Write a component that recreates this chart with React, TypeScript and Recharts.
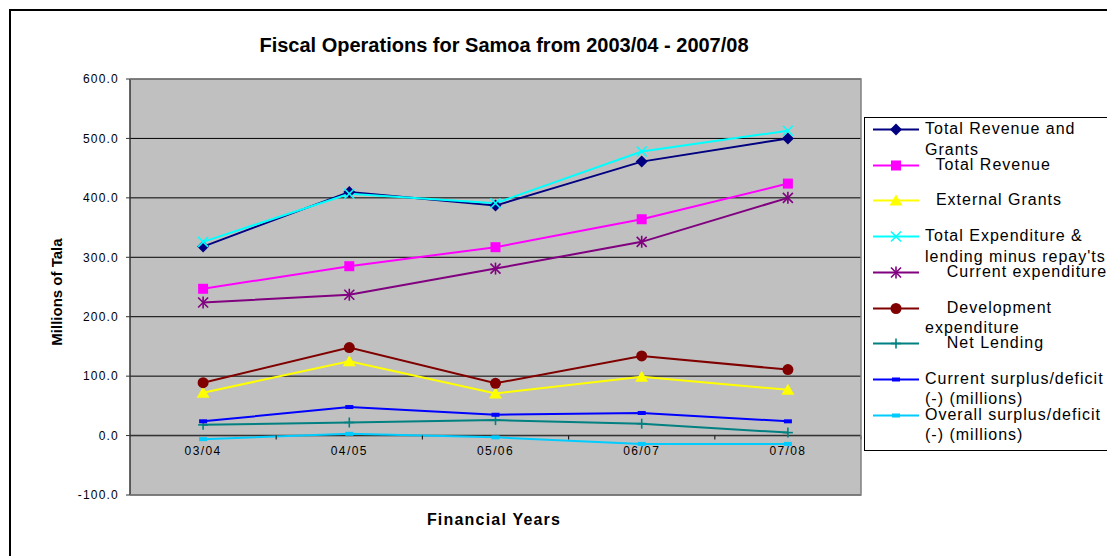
import React from 'react';
import {
  LineChart,
  Line,
  XAxis,
  YAxis,
  CartesianGrid,
  ReferenceLine
} from 'recharts';

const categories = ['03/04', '04/05', '05/06', '06/07', '07/08'];
const totalRevenueGrants = [318, 410, 387, 461, 500];
const totalRevenue = [247, 285, 317, 364, 424];
const externalGrants = [72, 125, 71, 99, 77];
const totalExpenditure = [326, 407, 391, 478, 513];
const currentExpenditure = [224, 237, 281, 326, 400];
const developmentExpenditure = [89, 148, 88, 134, 111];
const netLending = [18, 22, 26, 20, 5];
const currentSurplus = [24, 48, 35, 38, 24];
const overallSurplus = [-6, 3, -3, -14, -14];
const yTicks = [-100, 0, 100, 200, 300, 400, 500, 600];

const FONT = '"Liberation Sans", Arial, sans-serif';

type MarkerKind = 'diamond' | 'square' | 'triangle' | 'cross' | 'star' | 'circle' | 'plus' | 'dash';

interface Series {
  key: string;
  label: string;
  values: number[];
  color: string;
  marker: MarkerKind;
}

const series: Series[] = [
  { key: 'trg', label: 'Total Revenue and\nGrants', values: totalRevenueGrants, color: '#000080', marker: 'diamond' },
  { key: 'tr', label: '  Total Revenue', values: totalRevenue, color: '#FF00FF', marker: 'square' },
  { key: 'eg', label: '  External Grants', values: externalGrants, color: '#FFFF00', marker: 'triangle' },
  { key: 'te', label: "Total Expenditure &\nlending minus repay'ts", values: totalExpenditure, color: '#00FFFF', marker: 'cross' },
  { key: 'ce', label: '    Current expenditure', values: currentExpenditure, color: '#800080', marker: 'star' },
  { key: 'de', label: '    Development\nexpenditure', values: developmentExpenditure, color: '#800000', marker: 'circle' },
  { key: 'nl', label: '    Net Lending', values: netLending, color: '#008080', marker: 'plus' },
  { key: 'cs', label: 'Current surplus/deficit\n(-) (millions)', values: currentSurplus, color: '#0000FF', marker: 'dash' },
  { key: 'os', label: 'Overall surplus/deficit\n(-) (millions)', values: overallSurplus, color: '#00CCFF', marker: 'dash' }
];

const data = categories.map((year, i) => {
  const row: Record<string, string | number> = { year };
  series.forEach(s => { row[s.key] = s.values[i]; });
  return row;
});

// layout (page pixels)
const W = 1107;
const H = 556;
const PLOT = { left: 130, top: 79, right: 861, bottom: 495 };
const PLOT_W = PLOT.right - PLOT.left;
const PLOT_H = PLOT.bottom - PLOT.top;
const Y_MIN = -100;
const Y_MAX = 600;
const Y_AXIS_W = 60;
const X_AXIS_H = 30;

const Marker = ({ kind, cx, cy, color }: { kind: MarkerKind; cx: number; cy: number; color: string }) => {
  switch (kind) {
    case 'diamond':
      return <polygon points={`${cx},${cy - 6} ${cx + 6},${cy} ${cx},${cy + 6} ${cx - 6},${cy}`} fill={color} />;
    case 'square':
      return <rect x={cx - 5} y={cy - 5} width={10} height={10} fill={color} />;
    case 'triangle':
      return <polygon points={`${cx},${cy - 6} ${cx + 6.5},${cy + 5} ${cx - 6.5},${cy + 5}`} fill={color} />;
    case 'cross':
      return (
        <g stroke={color} strokeWidth={1.6}>
          <line x1={cx - 5} y1={cy - 5} x2={cx + 5} y2={cy + 5} />
          <line x1={cx - 5} y1={cy + 5} x2={cx + 5} y2={cy - 5} />
        </g>
      );
    case 'star':
      return (
        <g stroke={color} strokeWidth={1.6}>
          <line x1={cx - 5} y1={cy - 5} x2={cx + 5} y2={cy + 5} />
          <line x1={cx - 5} y1={cy + 5} x2={cx + 5} y2={cy - 5} />
          <line x1={cx} y1={cy - 6} x2={cx} y2={cy + 6} />
        </g>
      );
    case 'circle':
      return <circle cx={cx} cy={cy} r={5.5} fill={color} />;
    case 'plus':
      return (
        <g stroke={color} strokeWidth={1.6}>
          <line x1={cx} y1={cy - 5} x2={cx} y2={cy + 5} />
          <line x1={cx - 5} y1={cy} x2={cx + 5} y2={cy} />
        </g>
      );
    case 'dash':
    default:
      return <rect x={cx - 4} y={cy - 2} width={8} height={4} fill={color} />;
  }
};

const XTick = (props: any) => {
  const { x, y, payload } = props;
  const zeroY = y - (PLOT_H * (0 - Y_MIN)) / (Y_MAX - Y_MIN);
  const band = PLOT_W / categories.length;
  return (
    <g>
      <line x1={x + band / 2} x2={x + band / 2} y1={zeroY} y2={zeroY + 4} stroke="#222" strokeWidth={1.2} />
      <text
        x={x}
        y={zeroY + 19}
        textAnchor="middle"
        fill="#000"
        fontSize={12}
        fontFamily={FONT}
        letterSpacing={1.4}
      >
        {payload.value}
      </text>
    </g>
  );
};

const LegendBox = () => (
  <div
    style={{
      position: 'absolute',
      left: 864,
      top: 117,
      width: 300,
      height: 334,
      border: '1px solid #000',
      boxSizing: 'border-box',
      background: '#fff'
    }}
  >
    {series.map((s, i) => (
      <div key={s.key} style={{ position: 'absolute', left: 0, top: 1 + i * 35.7, width: 300, height: 21 }}>
        <svg width={50} height={21} style={{ position: 'absolute', left: 8, top: 0 }}>
          <line x1={0} x2={46} y1={10.5} y2={10.5} stroke={s.color} strokeWidth={1.8} />
          <Marker kind={s.marker} cx={23} cy={10.5} color={s.color} />
        </svg>
        <div
          style={{
            position: 'absolute',
            left: 60,
            top: 0,
            whiteSpace: 'pre',
            fontFamily: FONT,
            fontSize: 16,
            lineHeight: '20.5px',
            letterSpacing: 1,
            color: '#000'
          }}
        >
          {s.label}
        </div>
      </div>
    ))}
  </div>
);

export default function App() {
  return (
    <div
      style={{
        position: 'fixed',
        left: 0,
        top: 0,
        width: W,
        height: H,
        overflow: 'hidden',
        background: '#fff',
        fontFamily: FONT
      }}
    >
      {/* outer chart frame */}
      <div
        style={{
          position: 'absolute',
          left: 9,
          top: 9,
          width: 1200,
          height: 700,
          border: '2px solid #000',
          boxSizing: 'border-box'
        }}
      />
      <div style={{ position: 'absolute', left: 0, top: 0 }}>
        <LineChart
          width={W}
          height={H}
          data={data}
          margin={{
            top: PLOT.top,
            left: PLOT.left - Y_AXIS_W,
            right: W - PLOT.right,
            bottom: H - PLOT.bottom - X_AXIS_H
          }}
        >
          <CartesianGrid vertical={false} stroke="#000" strokeWidth={1} fill="#C0C0C0" fillOpacity={1} />
          <ReferenceLine y={0} stroke="#333" strokeWidth={1.5} />
          <XAxis
            dataKey="year"
            height={X_AXIS_H}
            axisLine={false}
            tickLine={false}
            tickSize={0}
            tickMargin={0}
            interval={0}
            padding={{ left: PLOT_W / categories.length / 2, right: PLOT_W / categories.length / 2 }}
            tick={<XTick />}
          />
          <YAxis
            width={Y_AXIS_W}
            domain={[Y_MIN, Y_MAX]}
            ticks={yTicks}
            interval={0}
            allowDataOverflow
            axisLine={{ stroke: '#333', strokeWidth: 1.5 }}
            tickLine={{ stroke: '#333' }}
            tickSize={4}
            tickMargin={7}
            tickFormatter={(v: number) => v.toFixed(1)}
            tick={{ fill: '#000', fontSize: 12, fontFamily: FONT, letterSpacing: 1.2 }}
          />
          {series.map(s => (
            <Line
              key={s.key}
              dataKey={s.key}
              name={s.label.trim().replace('\n', ' ')}
              type="linear"
              stroke={s.color}
              strokeWidth={2}
              isAnimationActive={false}
              activeDot={false}
              dot={(p: any) => (
                <Marker key={`${s.key}-${p.index}`} kind={s.marker} cx={p.cx} cy={p.cy} color={s.color} />
              )}
            />
          ))}
        </LineChart>
      </div>
      <svg width={W} height={H} style={{ position: 'absolute', left: 0, top: 0, pointerEvents: 'none' }}>
        {/* plot frame: gray on top, right and bottom, axis on the left */}
        <polyline
          points={`${PLOT.left},${PLOT.top} ${PLOT.right},${PLOT.top} ${PLOT.right},${PLOT.bottom} ${PLOT.left},${PLOT.bottom}`}
          fill="none"
          stroke="#808080"
          strokeWidth={1.5}
        />
        <text x={504} y={52} textAnchor="middle" fontSize={20} fontWeight="bold" fontFamily={FONT} fill="#000">
          Fiscal Operations for Samoa from 2003/04 - 2007/08
        </text>
        <text x={494} y={525} textAnchor="middle" fontSize={16} fontWeight="bold" fontFamily={FONT} fill="#000" letterSpacing={1.2}>
          Financial Years
        </text>
        <text
          x={62}
          y={292}
          textAnchor="middle"
          fontSize={15}
          fontWeight="bold"
          fontFamily={FONT}
          fill="#000"
          transform="rotate(-90 62 292)"
        >
          Millions of Tala
        </text>
      </svg>
      <LegendBox />
    </div>
  );
}
